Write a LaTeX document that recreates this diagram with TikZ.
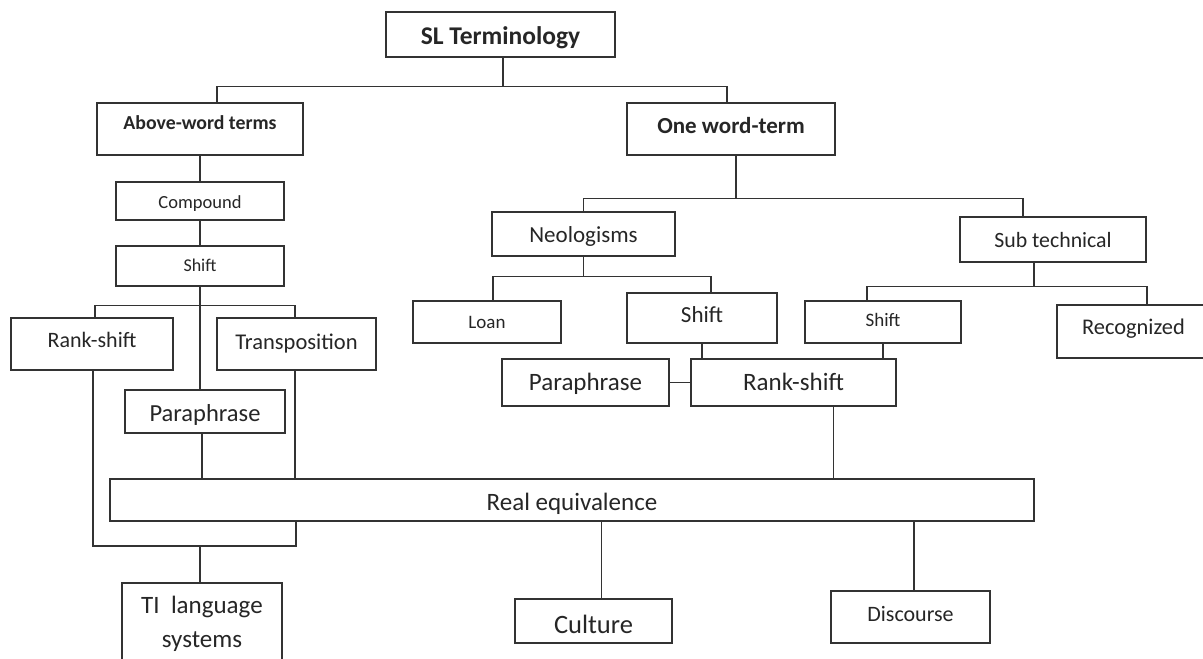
\documentclass[tikz,border=0pt]{standalone}
\usepackage{fontspec}
\setmainfont{Carlito}
\usepackage{tikz}
\usetikzlibrary{calc,positioning}
\tikzset{
    box/.style={draw=black!80, line width=1.2pt, fill=white, inner sep=0pt,
        align=center, text=black!85},
    sz/.style 2 args={font=\fontsize{#1}{#1}\selectfont,
        text height={0.644*#1pt+2*(#2)*1pt}, text depth=0pt},  % #2 moves the text down
    bsz/.style 2 args={sz={#1}{#2}, font=\fontsize{#1}{#1}\selectfont\bfseries},
    link/.style={draw=black!80, line width=1.2pt}
}

\begin{document}
\begin{tikzpicture}[x=1pt,y=-1pt]
            \useasboundingbox (0,0) rectangle (1203,659);
            % top of the tree
            \node[box,bsz={25.5}{2},minimum width=229,minimum height=45] (sl) at (500.5,34.5) {SL Terminology};
            \node[box,bsz={19.8}{-5.5},minimum width=206,minimum height=52] (above) at (200,129) {Above-word terms};
            \node[box,bsz={23}{-3},minimum width=208,minimum height=52] (one) at (731,129) {One word-term};
            % left branch
            \node[box,sz={18.5}{1.5},minimum width=168,minimum height=38] (compound) at (200,201) {Compound};
            \node[box,sz={18}{0},minimum width=168,minimum height=40] (shifta) at (200,266) {Shift};
            \node[box,sz={22}{-3.5},minimum width=162,minimum height=52] (ranka) at (92,344) {Rank-shift};
            \node[box,sz={22.5}{-2},minimum width=159,minimum height=52] (transp) at (296.5,344) {Transposition};
            \node[box,sz={24.5}{2.5},minimum width=160,minimum height=43] (paraa) at (205,411.5) {Paraphrase};
            % right branch
            \node[box,sz={23}{1},minimum width=183,minimum height=44] (neo) at (583.5,234) {Neologisms};
            \node[box,sz={21.8}{1},minimum width=186,minimum height=45] (subtech) at (1053,239.5) {Sub technical};
            \node[box,sz={19}{0},minimum width=148,minimum height=42] (loan) at (487,322) {Loan};
            \node[box,sz={23}{-2.5},minimum width=150,minimum height=50] (shiftb) at (702,318) {Shift};
            \node[box,sz={19}{-1.5},minimum width=156,minimum height=42] (shiftc) at (883,322) {Shift};
            \node[box,sz={22.4}{-4},minimum width=153,minimum height=53] (recog) at (1133.5,331.5) {Recognized};
            \node[box,sz={25}{0},minimum width=167,minimum height=47] (parab) at (585.5,382.5) {Paraphrase};
            \node[box,sz={25}{0},minimum width=205,minimum height=47] (rankb) at (793.5,382.5) {Rank-shift};
            % bottom row
            \node[box,sz={25}{2.5},minimum width=924,minimum height=42] (real) at (572,500) {Real equivalence};
            \node[box,font=\fontsize{25}{34}\selectfont,minimum width=160,minimum height=81] (ti) at (202,623.5) {TI\ \ language\\systems};
            \node[box,sz={26.5}{3.5},minimum width=157,minimum height=44] (culture) at (593.5,621) {Culture};
            \node[box,sz={22}{-2.5},minimum width=159,minimum height=52] (discourse) at (910.5,617) {Discourse};
            % connectors
            \draw[link] (sl.south) ++(2.5,0) -- ++(0,29) coordinate (t1);
            \draw[link] ($(above.north)+(17,0)$) |- (t1) -| ($(one.north)+(-4,0)$);
            \draw[link] (above) -- (compound);
            \draw[link] (compound) -- (shifta);
            \draw[link] (shifta.south) -- (shifta.south |- paraa.north);
            \path (shifta.south) ++(0,19) coordinate (t2);
            \draw[link] ($(ranka.north)+(3,0)$) |- (t2) -| ($(transp.north)+(-1.5,0)$);
            \draw[link] (paraa.south) ++(-3,0) -- ++(0,46);
            \draw[link] ($(transp.south)+(-1.5,0)$) -- ++(0,109);
            \coordinate (t3) at (200,546);
            \draw[link] ($(ranka.south)+(1,0)$) |- (t3) -| ($(real.south)+(-276,0)$);
            \draw[link] (t3) -- (t3 |- ti.north);
            \draw[link] (one.south) ++(5,0) -- ++(0,43) coordinate (t4);
            \draw[link] (neo.north) |- (t4) -| ($(subtech.north)+(-30,0)$);
            \draw[link] (neo.south) -- ++(0,20) coordinate (t5);
            \draw[link] ($(loan.north)+(6,0)$) |- (t5) -| ($(shiftb.north)+(9,0)$);
            \draw[link] (subtech.south) ++(-19,0) -- ++(0,24) coordinate (t6);
            \draw[link] ($(shiftc.north)+(-16,0)$) |- (t6) -| ($(recog.north)+(13.5,0)$);
            \draw[link] (shiftb.south) -- (shiftb.south |- rankb.north);
            \draw[link] (shiftc.south) -- (shiftc.south |- rankb.north);
            \draw[link] (parab) -- (rankb);
            \draw[link] (rankb.south) ++(40,0) -- ++(0,73);
            \draw[link] (culture.north) ++(8,0) -- ++(0,-76);
            \draw[link] (discourse.north) ++(3.5,0) -- ++(0,-68);
\end{tikzpicture}
\end{document}
